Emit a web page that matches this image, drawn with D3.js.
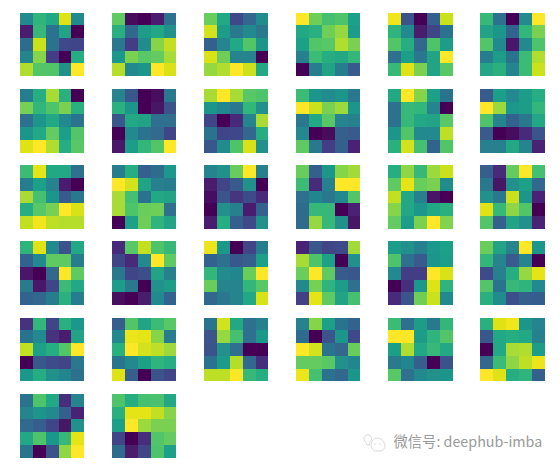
<!DOCTYPE html>
<html><head><meta charset="utf-8">
<script src="https://cdn.jsdelivr.net/npm/d3@7"></script>
<style>html,body{margin:0;padding:0;background:#fff}svg{display:block}</style>
</head><body><div id="chart"></div>
<script>
// Feature-map values (0–1 on viridis), one array per panel.
const p01=[[.47,.65,.6,.95,.47],[.08,.67,.38,.58,0],[.35,.92,.38,.22,.2],[.45,.82,.18,0,.62],[.88,.73,.73,.5,1]];
const p02=[[.75,.02,0,.08,.37],[.63,.33,.55,.6,.5],[.4,.18,.48,.82,.91],[.53,.8,.74,.76,.87],[.89,.47,.52,1,.94]];
const p03=[[.77,.6,.22,.33,.48],[.93,.55,.4,.47,.4],[.3,.45,.6,.73,.52],[.94,.78,.45,.45,0],[.84,.88,1,.92,.6]];
const p04=[[1,.78,.7,.72,.57],[.6,.63,.78,.84,.55],[.57,.73,.74,.88,.8],[.43,.68,.62,.6,.66],[0,.42,.58,.42,.28]];
const p05=[[.98,.25,0,.3,.92],[.65,.47,.07,.2,.38],[.73,.62,.33,.72,.55],[.36,.56,.4,.58,1],[.67,.95,.8,.58,.74]];
const p06=[[.67,.37,0,.48,1],[.58,.52,.32,.66,.8],[.73,.47,.06,.47,.72],[.42,.55,.38,.68,.88],[.59,.63,.45,.68,.92]];
const p07=[[.42,.62,.87,.63,0],[.79,.66,.72,.8,.63],[.37,.52,.6,.47,.38],[.52,.6,.76,.56,.73],[.95,1,.88,.62,.74]];
const p08=[[.45,.27,0,.03,.4],[.64,.52,0,.05,.25],[.27,.6,.58,.36,.36],[0,.47,.38,.34,.2],[.06,.55,.66,.73,1]];
const p09=[[.87,1,.87,.74,.72],[.52,.46,.4,.66,.5],[.2,0,.12,.45,.87],[.38,.2,.21,.33,.62],[.27,.48,.72,.94,.5]];
const p10=[[.68,.52,.48,.52,.4],[1,.92,.8,.85,.52],[.4,.6,.74,.45,.43],[.47,0,.02,.3,.28],[.75,.4,.18,.3,.1]];
const p11=[[.6,1,.82,.57,.38],[.37,.67,.66,.45,0],[.37,.67,.6,.58,.74],[.52,.73,.47,.47,.9],[.63,.93,.7,.32,.73]];
const p12=[[.28,.56,.47,.55,.62],[1,.85,.53,.55,.66],[.72,.45,.32,.4,.6],[.28,0,.03,.12,.26],[.43,.43,.6,.45,.1]];
const p13=[[.68,.96,.6,.6,.37],[.42,.57,.44,.08,0],[.87,.7,.52,.28,.4],[.62,.74,.79,1,.94],[.91,.98,.9,.89,.89]];
const p14=[[.42,.62,.3,.35,.53],[1,.93,.58,.43,.42],[.87,.7,.38,.6,.58],[.87,.72,.77,.78,.36],[0,.57,.78,.65,.58]];
const p15=[[.45,.5,.77,1,.43],[.07,.2,.28,.5,0],[.04,.26,.15,.23,.12],[0,.5,.43,.08,.32],[.08,.62,.3,.22,.5]];
const p16=[[.77,.3,.52,.82,.86],[.68,.12,.43,1,1],[.36,.46,.4,.47,.73],[.35,.67,.67,0,.1],[.34,.84,.67,.5,.05]];
const p17=[[.62,.83,.67,.85,.92],[.75,.96,.77,.8,.48],[.91,.6,.43,.05,0],[.82,.6,.53,.6,.63],[.76,.55,.8,1,.81]];
const p18=[[.3,.12,.76,1,.7],[.4,.05,.5,.57,.33],[.5,.4,.92,.52,.1],[.95,.67,.83,.73,0],[.73,.3,.58,.5,.1]];
const p19=[[.65,.95,.47,.25,.6],[.32,.47,.75,.75,.42],[.06,0,.33,1,.75],[.41,.06,.2,.68,.6],[.32,.33,.42,.64,.42]];
const p20=[[.12,.74,.91,.72,.67],[.2,.12,.47,1,.75],[.4,.2,.24,.58,.43],[.55,.4,0,.5,.55],[.03,0,.07,.47,.32]];
const p21=[[.97,.53,0,.2,.42],[.32,.37,.27,.3,.57],[.66,.48,.46,.77,1],[.77,.45,.45,.66,.74],[.33,.4,.45,.6,.94]];
const p22=[[.1,.27,.2,.22,.86],[.87,.72,.57,0,.5],[.77,1,.75,.28,.27],[.47,.79,.65,.55,.36],[.19,.96,.75,.58,.7]];
const p23=[[.55,.5,.43,.53,.57],[.72,.37,.28,.52,.56],[.47,.18,.18,1,.94],[0,.13,.53,.95,.65],[.12,.26,.78,.92,.47]];
const p24=[[.77,.58,.45,1,.52],[.66,.45,.28,.45,0],[.23,.43,.62,.84,.96],[.73,.38,.67,.65,.47],[.63,.48,.24,.3,.29]];
const p25=[[.14,.66,.2,.63,.53],[.38,.47,.14,.08,.58],[.91,.57,.62,.73,1],[0,.27,.23,.2,.4],[.53,.62,.5,.46,.37]];
const p26=[[.29,.73,.58,.68,.74],[.47,.97,.96,.82,.42],[.63,1,.93,.9,.85],[.39,.47,.57,.65,.62],[.95,.3,0,.25,.2]];
const p27=[[.38,.93,.6,.37,.43],[.26,.84,.7,.37,.53],[.25,.5,.36,0,0],[.38,.54,.89,.33,.13],[.9,.9,1,.67,.62]];
const p28=[[.44,.82,.57,.38,.32],[.35,0,.26,.52,.22],[1,.93,.38,.33,.77],[.76,.76,.74,.5,.46],[.97,.7,.38,.33,.52]];
const p29=[[.68,.37,.55,.4,.66],[1,1,.55,.65,.73],[.56,.88,.6,.67,.6],[.41,.46,.3,0,.25],[.74,.37,.47,.5,.52]];
const p30=[[.63,.95,.98,.52,.45],[.27,.6,.62,.6,.43],[0,.6,.87,.88,.55],[.33,.68,.83,.9,.97],[1,.95,.62,.65,.3]];
const p31=[[.38,.72,.6,.13,.45],[.45,.52,.47,.3,.1],[.34,.29,.2,.05,.5],[.6,.72,.53,.67,.96],[.39,0,.25,.83,1]];
const p32=[[.72,.62,.7,.71,.6],[.63,.96,.96,.91,.82],[.57,1,.85,.8,.8],[.2,0,.13,.73,.76],[.35,.07,.2,.72,.57]];
const panels=[p01,p02,p03,p04,p05,p06,p07,p08,p09,p10,p11,p12,p13,p14,p15,p16,p17,p18,p19,p20,p21,p22,p23,p24,p25,p26,p27,p28,p29,p30,p31,p32];
const watermark="微信号: deephub-imba";

const W=560,H=468,nCols=6,nRows=6,nCells=5;
const svg=d3.select("#chart").append("svg").attr("width",W).attr("height",H).attr("viewBox",[0,0,W,H]);
// Soft edges like the resampled reference image
svg.append("defs").append("filter").attr("id","soft")
  .attr("x","-5%").attr("y","-5%").attr("width","110%").attr("height","110%")
  .append("feGaussianBlur").attr("stdDeviation",.4);
const color=d3.scaleSequential(d3.interpolateViridis).domain([0,1]);
const px=d3.scaleBand().domain(d3.range(nCols)).range([20,544.6]).paddingInner(.3015);
const py=d3.scaleBand().domain(d3.range(nRows)).range([12.5,457.7]).paddingInner(.165);
const cx=d3.scaleBand().domain(d3.range(nCells)).range([0,px.bandwidth()]);
const cy=d3.scaleBand().domain(d3.range(nCells)).range([0,py.bandwidth()]);

const g=svg.selectAll("g.panel").data(panels).join("g").attr("class","panel")
  .attr("transform",(d,i)=>`translate(${px(i%nCols)},${py(Math.floor(i/nCols))})`)
  .attr("filter","url(#soft)");
g.selectAll("g").data(d=>d).join("g").attr("transform",(d,r)=>`translate(0,${cy(r)})`)
  .selectAll("rect").data(d=>d).join("rect")
  .attr("x",(d,c)=>cx(c)).attr("width",cx.bandwidth())
  .attr("height",cy.bandwidth()).attr("fill",d=>color(d))
  .attr("shape-rendering","crispEdges");

// Watermark: faint bubble icon and text
const icon=svg.append("g").attr("transform","translate(363,433)").attr("fill","none").attr("stroke","#d4d4d4").attr("stroke-width",.9);
icon.append("path").attr("d","M1 6C1 3 3.5 1 6 2C8 3 9 5 8.5 7C7 8.5 6 10 6.5 12L4 12L3 9.5C2 8.8 1 7.5 1 6Z");
icon.append("path").attr("d","M8 13C8 9 10.5 5 14 5C18 5 22 9 22 13C22 15.5 20 17.5 17 18L12 18C10 17 8 15 8 13Z");
icon.append("circle").attr("cx",12).attr("cy",11).attr("r",.6).attr("fill","#bbb").attr("stroke","none");
icon.append("circle").attr("cx",17).attr("cy",11).attr("r",.6).attr("fill","#bbb").attr("stroke","none");
svg.append("text").text(watermark).attr("x",393.5).attr("y",447)
  .attr("font-family","'Noto Sans CJK SC','DejaVu Sans',sans-serif").attr("font-size",14.3).attr("fill","#9a9a9a");
</script></body></html>
